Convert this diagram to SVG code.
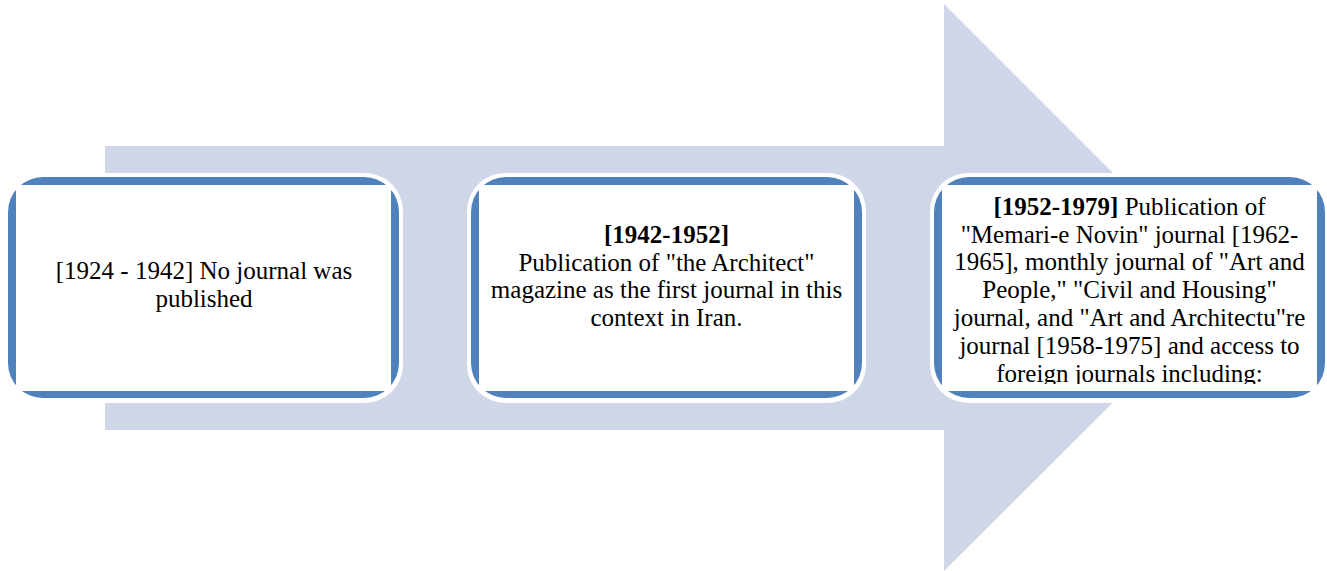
<svg xmlns="http://www.w3.org/2000/svg" width="1327" height="571" viewBox="0 0 1327 571">
<style>
.arrow{fill:#CFD6E7}
.halo{fill:#FFFFFF}
.frame{fill:#4F81BD}
.inner{fill:#FFFFFF}
.t{font-family:"Liberation Serif","Times New Roman",serif;font-size:25px;fill:#000000;text-anchor:middle}
.b{font-weight:bold}
</style>
<defs>
<clipPath id="clip3"><rect x="942" y="185" width="375" height="199"/></clipPath>
</defs>
<rect x="0" y="0" width="1327" height="571" fill="#FFFFFF"/>
<g id="connectors">
<polygon class="arrow" points="105,146 944,146 944,4 1228,288 944,571 944,430 105,430"/>
</g>
<g id="node1">
<rect class="halo" x="4" y="173" width="399" height="230" rx="38"/>
<rect class="frame" x="8" y="177" width="391" height="221" rx="35"/>
<rect class="inner" x="16" y="185" width="375" height="206"/>
<text class="t" x="204" y="279">[1924 - 1942] No journal was</text>
<text class="t" x="204" y="307">published</text>
</g>
<g id="node2">
<rect class="halo" x="467" y="173" width="399" height="230" rx="38"/>
<rect class="frame" x="471" y="177" width="391" height="221" rx="35"/>
<rect class="inner" x="479" y="185" width="375" height="206"/>
<text class="t b" x="666.5" y="243">[1942-1952]</text>
<text class="t" x="666.5" y="271">Publication of "the Architect"</text>
<text class="t" x="666.5" y="298">magazine as the first journal in this</text>
<text class="t" x="666.5" y="326">context in Iran.</text>
</g>
<g id="node3">
<rect class="halo" x="930" y="173" width="399" height="230" rx="38"/>
<rect class="frame" x="934" y="177" width="391" height="221" rx="35"/>
<rect class="inner" x="942" y="185" width="375" height="206"/>
<g clip-path="url(#clip3)">
<text class="t" x="1129.5" y="215"><tspan class="b">[1952-1979]</tspan> Publication of</text>
<text class="t" x="1129.5" y="243">"Memari-e Novin" journal [1962-</text>
<text class="t" x="1129.5" y="270">1965], monthly journal of "Art and</text>
<text class="t" x="1129.5" y="298">People," "Civil and Housing"</text>
<text class="t" x="1129.5" y="326">journal, and "Art and Architectu"re</text>
<text class="t" x="1129.5" y="354">journal [1958-1975] and access to</text>
<text class="t" x="1129.5" y="382">foreign journals including:</text>
</g>
</g>
</svg>
